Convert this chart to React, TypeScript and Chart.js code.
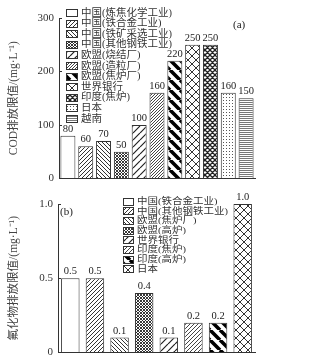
import React, { useEffect, useRef } from 'react';
import { Chart, registerables } from 'chart.js';

Chart.register(...registerables);

const codCategories = ['中国(炼焦化学工业)', '中国(铁合金工业)', '中国(铁矿采选工业)', '中国(其他钢铁工业)', '欧盟(烧结厂)', '欧盟(造粒厂)', '欧盟(焦炉厂)', '世界银行', '印度(焦炉)', '日本', '越南'];
const codValues = [80, 60, 70, 50, 100, 160, 220, 250, 250, 160, 150];
const codLabels = ['80', '60', '70', '50', '100', '160', '220', '250', '250', '160', '150'];
const codPatterns = ['white', 'slashFine', 'backslash', 'checker', 'slashWide', 'slashDense', 'backslashThick', 'cross', 'crossDense', 'dots', 'hlines'];
const codTicks = [0, 100, 200, 300];

const fluCategories = ['中国(铁合金工业)', '中国(其他钢铁工业)', '欧盟(焦炉厂)', '欧盟(高炉)', '世界银行', '印度(焦炉)', '印度(高炉)', '日本'];
const fluValues = [0.5, 0.5, 0.1, 0.4, 0.1, 0.2, 0.2, 1.0];
const fluLabels = ['0.5', '0.5', '0.1', '0.4', '0.1', '0.2', '0.2', '1.0'];
const fluPatterns = ['white', 'slashFine', 'backslash', 'checker', 'slashWide', 'slashMed', 'backslashThick', 'cross'];
const fluTicks = [0, 0.5, 1.0];

const FONT = "'Liberation Serif', 'Noto Sans CJK SC', serif";

function tile(w: number, h: number, draw: (g: CanvasRenderingContext2D) => void) {
  const c = document.createElement('canvas');
  c.width = w;
  c.height = h;
  const g = c.getContext('2d')!;
  g.fillStyle = '#fff';
  g.fillRect(0, 0, w, h);
  draw(g);
  return g.createPattern(c, 'repeat')!;
}

function diag(p: number, lw: number, color: string, dirs: string[]) {
  return tile(p, p, (g) => {
    g.strokeStyle = color;
    g.lineWidth = lw;
    g.beginPath();
    for (const k of [-p, 0, p]) {
      if (dirs.includes('/')) {
        g.moveTo(k, p);
        g.lineTo(k + p, 0);
      }
      if (dirs.includes('\\')) {
        g.moveTo(k, 0);
        g.lineTo(k + p, p);
      }
    }
    g.stroke();
  });
}

function makePattern(name: string): CanvasPattern | string {
  switch (name) {
    case 'white':
      return '#ffffff';
    case 'slashFine':
      return diag(4, 1, '#333', ['/']);
    case 'slashMed':
      return diag(4, 1, '#444', ['/']);
    case 'slashDense':
      return diag(3, 1, '#444', ['/']);
    case 'slashWide':
      return diag(7, 1.2, '#222', ['/']);
    case 'backslash':
      return diag(4, 1, '#333', ['\\']);
    case 'backslashThick':
      return diag(10, 3.6, '#000', ['\\']);
    case 'checker':
      return diag(3, 0.9, '#222', ['/', '\\']);
    case 'cross':
      return diag(8, 1, '#333', ['/', '\\']);
    case 'crossDense':
      return diag(5, 1.3, '#222', ['/', '\\']);
    case 'dots':
      return tile(3, 3, (g) => {
        g.fillStyle = '#555';
        g.fillRect(1, 1, 1, 1);
      });
    case 'hlines':
      return tile(4, 2, (g) => {
        g.fillStyle = '#777';
        g.fillRect(0, 0, 4, 1);
      });
  }
  return '#fff';
}

type Cfg = {
  categories: string[];
  values: number[];
  labels: string[];
  patterns: string[];
  ticks: number[];
  max: number;
  title: string;
  panel: string;
  panelX: number;
  panelY: number;
  legendX: number;
  legendY0: number;
  legendDy: number;
  legendScaleY: number;
  boxW: number;
  height: number;
  padTop: number;
  padBottom: number;
  axisWidth: number;
  barPct: number;
  tickFmt: (v: number) => string;
};

function BarPanel({ cfg }: { cfg: Cfg }) {
  const ref = useRef<HTMLCanvasElement>(null);
  useEffect(() => {
    const canvas = ref.current!;
    const fills = cfg.patterns.map(makePattern);
    const overlay = {
      id: 'overlay',
      afterDatasetsDraw(chart: any) {
        const ctx = chart.ctx as CanvasRenderingContext2D;
        const area = chart.chartArea;
        const meta = chart.getDatasetMeta(0);
        ctx.save();
        // value labels
        ctx.fillStyle = '#222';
        ctx.font = `10.5px ${FONT}`;
        ctx.textAlign = 'center';
        ctx.textBaseline = 'bottom';
        meta.data.forEach((bar: any, i: number) => {
          ctx.fillText(cfg.labels[i], bar.x, bar.y - 1.5);
        });
        // inward ticks
        const ys = chart.scales.y;
        ctx.strokeStyle = '#333';
        ctx.lineWidth = 1;
        cfg.ticks.forEach((t) => {
          const y = Math.round(ys.getPixelForValue(t)) + 0.5;
          ctx.beginPath();
          ctx.moveTo(area.left, y);
          ctx.lineTo(area.left + 3, y);
          ctx.stroke();
        });
        // panel label
        ctx.fillStyle = '#222';
        ctx.font = `11px ${FONT}`;
        ctx.textAlign = 'left';
        ctx.textBaseline = 'middle';
        ctx.fillText(cfg.panel, cfg.panelX, cfg.panelY);
        // legend
        ctx.font = `10.5px ${FONT}`;
        cfg.categories.forEach((name, i) => {
          const cy = cfg.legendY0 + cfg.legendDy * i;
          const bx = cfg.legendX;
          const by = Math.round(cy - 3.5);
          ctx.fillStyle = fills[i] as any;
          ctx.fillRect(bx, by, cfg.boxW, 7);
          ctx.strokeStyle = '#333';
          ctx.strokeRect(bx + 0.5, by + 0.5, cfg.boxW, 7);
          ctx.fillStyle = '#333';
          ctx.save();
          ctx.translate(bx + cfg.boxW + 4, cy + 0.5);
          ctx.scale(1, cfg.legendScaleY);
          ctx.fillText(name, 0, 0);
          ctx.restore();
        });
        ctx.restore();
      },
    };
    const chart = new Chart(canvas, {
      type: 'bar',
      data: {
        labels: cfg.categories,
        datasets: [
          {
            data: cfg.values,
            backgroundColor: fills as any,
            borderColor: '#333',
            borderWidth: 1,
            barPercentage: cfg.barPct,
            categoryPercentage: 1,
          },
        ],
      },
      options: {
        responsive: false,
        animation: false,
        layout: { padding: { top: cfg.padTop, right: 60, bottom: cfg.padBottom, left: 0 } },
        plugins: { legend: { display: false }, tooltip: { enabled: false } },
        scales: {
          x: {
            grid: { display: true, drawOnChartArea: false, drawTicks: false },
            border: { display: true, color: '#333', width: 1 },
            ticks: { display: false },
          },
          y: {
            min: 0,
            max: cfg.max,
            afterFit: (s: any) => {
              s.width = cfg.axisWidth;
            },
            afterBuildTicks: (s: any) => {
              s.ticks = cfg.ticks.map((v) => ({ value: v }));
            },
            ticks: {
              color: '#333',
              font: { family: FONT, size: 11 },
              padding: 5,
              callback: (v: any) => cfg.tickFmt(Number(v)),
            },
            grid: { display: true, drawOnChartArea: false, drawTicks: false },
            border: { display: true, color: '#333', width: 1 },
            title: {
              display: true,
              text: cfg.title,
              color: '#444',
              font: { family: FONT, size: 11.5 },
              padding: { top: 7, bottom: 0 },
            },
          },
        },
      },
      plugins: [overlay],
    });
    return () => chart.destroy();
  }, []);
  return <canvas ref={ref} width={315} height={cfg.height} style={{ display: 'block' }} />;
}

const topCfg: Cfg = {
  categories: codCategories,
  values: codValues,
  labels: codLabels,
  patterns: codPatterns,
  ticks: codTicks,
  max: 300,
  title: 'COD排放限值/(mg·L⁻¹)',
  panel: '(a)',
  panelX: 233,
  panelY: 25,
  legendX: 66,
  legendY0: 12.5,
  legendDy: 10.6,
  legendScaleY: 0.95,
  boxW: 11,
  height: 190,
  padTop: 18,
  padBottom: 8,
  axisWidth: 59,
  barPct: 0.84,
  tickFmt: (v) => String(v),
};

const bottomCfg: Cfg = {
  categories: fluCategories,
  values: fluValues,
  labels: fluLabels,
  patterns: fluPatterns,
  ticks: fluTicks,
  max: 1.0,
  title: '氟化物排放限值/(mg·L⁻¹)',
  panel: '(b)',
  panelX: 60,
  panelY: 22,
  legendX: 123,
  legendY0: 11,
  legendDy: 9.7,
  legendScaleY: 0.86,
  boxW: 10,
  height: 174,
  padTop: 14,
  padBottom: 7,
  axisWidth: 58,
  barPct: 0.75,
  tickFmt: (v) => (v === 0 ? '0' : v.toFixed(1)),
};

export default function App() {
  return (
    <div style={{ position: 'absolute', left: 0, top: 0, width: 315, height: 364, background: '#fff' }}>
      <BarPanel cfg={topCfg} />
      <BarPanel cfg={bottomCfg} />
    </div>
  );
}
